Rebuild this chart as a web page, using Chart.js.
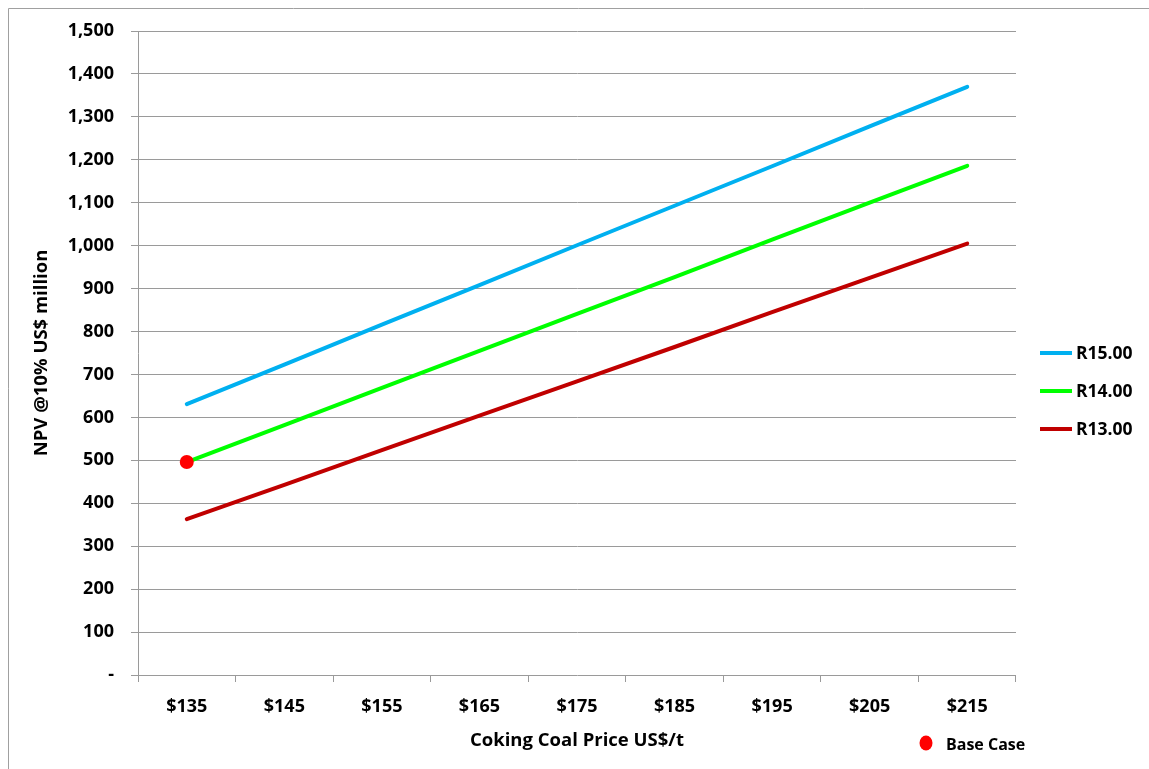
<!DOCTYPE html>
<html>
<head>
<meta charset="utf-8">
<script src="https://cdn.jsdelivr.net/npm/chart.js@4"></script>
<style>
  html, body { margin: 0; padding: 0; background: #fff; }
  #wrap { width: 1149px; height: 769px; position: relative; }
</style>
</head>
<body>
<div id="wrap"><canvas id="myChart" width="1149" height="769"></canvas></div>
<script>
// data
const prices = ['$135', '$145', '$155', '$165', '$175', '$185', '$195', '$205', '$215'];
const r15 = [631, 723, 816, 908, 1001, 1093, 1185, 1278, 1370];
const r14 = [496, 582, 669, 755, 841, 927, 1014, 1100, 1186];
const r13 = [363, 443, 524, 604, 684, 764, 845, 925, 1005];
const baseCase = [496, null, null, null, null, null, null, null, null];
const seriesNames = ['R15.00', 'R14.00', 'R13.00'];
const seriesColors = ['#00B0F0', '#00FF00', '#C00000'];

const FONT = "'Open Sans', 'Noto Sans', sans-serif";
const GRID = '#9a9a9a';

const legendPlugin = {
    id: 'customLegend',
    beforeDraw(chart) {
        const ctx = chart.ctx;
        ctx.save();
        ctx.strokeStyle = '#a0a0a0';
        ctx.lineWidth = 1;
        ctx.beginPath();
        ctx.moveTo(8.5, 769);
        ctx.lineTo(8.5, 8.5);
        ctx.lineTo(1149, 8.5);
        ctx.stroke();
        ctx.restore();
    },
    afterDraw(chart) {
        const ctx = chart.ctx;
        ctx.save();
        ctx.font = 'bold 17.5px ' + FONT;
        ctx.textBaseline = 'middle';
        ctx.fillStyle = '#000';
        const ys = [353, 391, 429];
        for (let i = 0; i < seriesNames.length; i++) {
            ctx.strokeStyle = seriesColors[i];
            ctx.lineWidth = 4;
            ctx.beginPath();
            ctx.moveTo(1040, ys[i]);
            ctx.lineTo(1072, ys[i]);
            ctx.stroke();
            ctx.fillText(seriesNames[i], 1076, ys[i] + 1);
        }
        ctx.fillStyle = '#FF0000';
        ctx.beginPath();
        ctx.ellipse(926, 743, 6.5, 7.5, 0, 0, Math.PI * 2);
        ctx.fill();
        ctx.fillStyle = '#000';
        ctx.font = 'bold 16px ' + FONT;
        ctx.fillText('Base Case', 946, 745);
        ctx.restore();
    }
};

const lineSets = [r15, r14, r13].map((d, i) => ({
    label: seriesNames[i],
    data: d,
    borderColor: seriesColors[i],
    backgroundColor: seriesColors[i],
    borderWidth: 4,
    borderCapStyle: 'round',
    pointRadius: 0,
    tension: 0,
    order: 1
}));

new Chart(document.getElementById('myChart'), {
    type: 'line',
    data: {
        labels: prices,
        datasets: [{
            label: 'Base Case',
            data: baseCase,
            showLine: false,
            pointRadius: 7,
            pointBackgroundColor: '#FF0000',
            pointBorderColor: '#FF0000',
            pointBorderWidth: 0,
            order: 0
        }, ...lineSets]
    },
    options: {
        responsive: false,
        animation: false,
        events: [],
        layout: { padding: { left: 0, top: 31, right: 133, bottom: 0 } },
        plugins: { legend: { display: false }, tooltip: { enabled: false } },
        scales: {
            x: {
                offset: true,
                grid: { offset: true, drawOnChartArea: false, drawTicks: true, tickLength: 7, color: GRID },
                border: { display: false },
                ticks: { color: '#000', font: { family: FONT, size: 18, weight: 'bold' }, padding: 14, maxRotation: 0 },
                title: { display: true, text: 'Coking Coal Price US$/t', color: '#000',
                    font: { family: FONT, size: 18.5, weight: 'bold' }, padding: { top: 0, bottom: 17 } },
                afterFit(scale) { scale.height = 94; }
            },
            y: {
                min: 0,
                max: 1500,
                ticks: {
                    stepSize: 100,
                    color: '#000',
                    font: { family: FONT, size: 18, weight: 'bold' },
                    padding: 17,
                    callback: v => v === 0 ? '-' : v.toLocaleString('en-US')
                },
                grid: { color: GRID, tickLength: 7 },
                border: { display: true, color: GRID },
                title: { display: true, text: 'NPV @10% US$ million', color: '#000',
                    font: { family: FONT, size: 18.5, weight: 'bold' }, padding: { top: 31, bottom: 0 } },
                afterFit(scale) { scale.width = 138; }
            }
        }
    },
    plugins: [legendPlugin]
});
</script>
</body>
</html>
